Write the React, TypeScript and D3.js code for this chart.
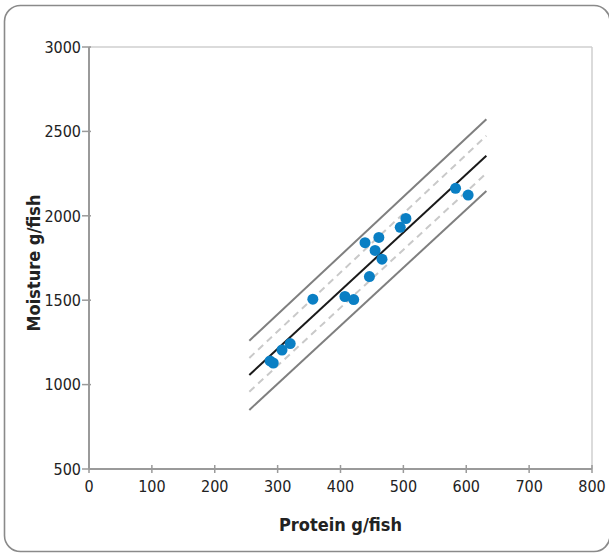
import React from 'react';
import * as d3 from 'd3';

// observed fish (protein vs moisture, g/fish)
const protein = [288, 293, 307, 320, 356, 407, 421, 446, 439, 461, 455, 466, 495, 504, 583, 603];
const moisture = [1140, 1128, 1205, 1243, 1506, 1522, 1504, 1640, 1841, 1872, 1795, 1743, 1932, 1984, 2163, 2123];

// fitted line + bands, values at the two ends of the drawn range
const lineX = [255, 632];
const fitY = [1057, 2356];
const confUpper = [1158, 2474];
const confLower = [958, 2252];
const predUpper = [1260, 2572];
const predLower = [850, 2147];

const xTicks = [0, 100, 200, 300, 400, 500, 600, 700, 800];
const yTicks = [500, 1000, 1500, 2000, 2500, 3000];

const W = 609;
const H = 555;
const left = 89, right = 592, top = 47, bottom = 469;

const App = () => {
  const x = d3.scaleLinear().domain([0, 800]).range([left, right]);
  const y = d3.scaleLinear().domain([500, 3000]).range([bottom, top]);

  const line = d3.line<number>()
    .x((_, i) => x(lineX[i]))
    .y(d => y(d));

  const tickFont = '"DejaVu Sans Condensed", "Liberation Sans Narrow", sans-serif';
  const titleFont = '"DejaVu Sans Condensed", "Liberation Sans", sans-serif';

  return (
    <svg width={W} height={H} style={{ position: 'absolute', left: 0, top: 0, background: '#fff' }}>
      {/* outer frame */}
      <rect x={4.5} y={5.5} width={605.5} height={546} rx={16} fill="none" stroke="#8a8a8a" strokeWidth={1.6} />

      {/* plot border top/right */}
      <line x1={left} x2={right} y1={top} y2={top} stroke="#cfcfcf" strokeWidth={1.5} />
      <line x1={right} x2={right} y1={top} y2={bottom} stroke="#cfcfcf" strokeWidth={1.5} />

      {/* bands and fit */}
      <path d={line(predUpper) || ''} fill="none" stroke="#7f7f7f" strokeWidth={2} />
      <path d={line(predLower) || ''} fill="none" stroke="#7f7f7f" strokeWidth={2} />
      <path d={line(confUpper) || ''} fill="none" stroke="#c9c9c9" strokeWidth={2} strokeDasharray="7,5" />
      <path d={line(confLower) || ''} fill="none" stroke="#c9c9c9" strokeWidth={2} strokeDasharray="7,5" />
      <path d={line(fitY) || ''} fill="none" stroke="#1a1a1a" strokeWidth={2} />

      {/* points */}
      {protein.map((p, i) => (
        <circle key={i} cx={x(p)} cy={y(moisture[i])} r={5.5} fill="#0a7fc4" />
      ))}

      {/* axes */}
      <line x1={left} x2={left} y1={top} y2={bottom} stroke="#9a9a9a" strokeWidth={2} />
      <line x1={left} x2={right} y1={bottom} y2={bottom} stroke="#9a9a9a" strokeWidth={2} />

      {xTicks.map(t => (
        <g key={'x' + t}>
          <line x1={x(t)} x2={x(t)} y1={bottom - 4} y2={bottom + 4} stroke="#9a9a9a" strokeWidth={1.5} />
          <text x={x(t)} y={bottom + 23} textAnchor="middle" fontSize={16} fill="#222" fontFamily={tickFont}>{t}</text>
        </g>
      ))}
      {yTicks.map(t => (
        <g key={'y' + t}>
          <line x1={left - 7} x2={left + 2} y1={y(t)} y2={y(t)} stroke="#9a9a9a" strokeWidth={1.5} />
          <text x={left - 8} y={y(t)} dy="0.36em" textAnchor="end" fontSize={16} fill="#222" fontFamily={tickFont}>{t}</text>
        </g>
      ))}

      {/* titles */}
      <text x={(left + right) / 2 + 0} y={531} textAnchor="middle" fontSize={18} fontWeight="bold" fill="#222" fontFamily={titleFont}>Protein g/fish</text>
      <text transform={`translate(40,${(top + bottom) / 2 + 5}) rotate(-90)`} textAnchor="middle" fontSize={18} fontWeight="bold" fill="#222" fontFamily={titleFont}>Moisture g/fish</text>
    </svg>
  );
};

export default App;
